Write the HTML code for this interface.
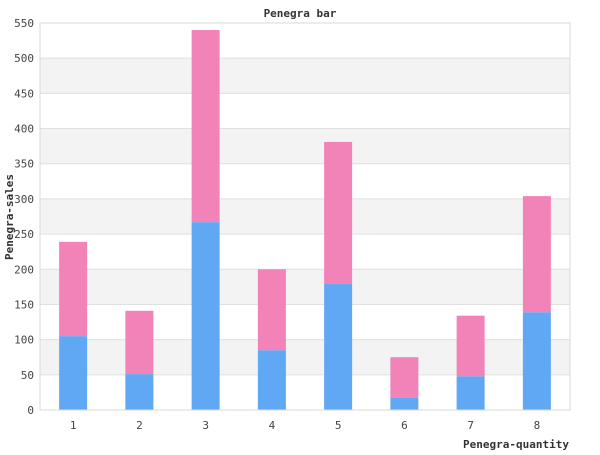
<!DOCTYPE html>
<html><head><meta charset="utf-8"><style>
body{margin:0;background:#fff;}
svg text{font-family:"DejaVu Sans Mono","Liberation Mono",monospace;}
</style></head><body>
<svg width="600" height="450" xmlns="http://www.w3.org/2000/svg">
<text x="300" y="17" text-anchor="middle" font-size="11" font-weight="bold" fill="#333">Penegra bar</text>
<g id="grid"></g>
<g id="bars"></g>
<g id="axes"></g>
<text x="569" y="448" text-anchor="end" font-size="11" font-weight="bold" fill="#333">Penegra-quantity</text>
<text transform="translate(13,217) rotate(-90)" text-anchor="middle" font-size="11" font-weight="bold" fill="#333">Penegra-sales</text>
</svg>
<script>
const categories=["1","2","3","4","5","6","7","8"];
const seriesBlue=[105,51,267,85,179,18,48,139];
const seriesPink=[134,90,273,115,202,57,86,165];
const yTicks=[0,50,100,150,200,250,300,350,400,450,500,550];
const NS="http://www.w3.org/2000/svg";
const L=40,R=570,T=23,B=410,yMax=550;
const y=v=>B-(v/yMax)*(B-T);
const bw=(R-L)/categories.length;
const xc=i=>L+bw*(i+0.5);
function mk(tag,attrs,parent){const e=document.createElementNS(NS,tag);for(const k in attrs)e.setAttribute(k,attrs[k]);parent.appendChild(e);return e;}
const grid=document.getElementById('grid'),bars=document.getElementById('bars'),axes=document.getElementById('axes');
for(let i=0;i<yTicks.length-1;i++){
  if(i%2===1){const r=mk('rect',{x:L,y:y(yTicks[i+1]),width:R-L,height:y(yTicks[i])-y(yTicks[i+1]),fill:'#f3f3f3'},grid);
  
  }
}
yTicks.forEach(t=>{
  const l=mk('line',{x1:L,x2:R,y1:y(t),y2:y(t),stroke:'#e0e0e0','stroke-width':1},grid);
  
  
  const tx=mk('text',{x:34,y:y(t)+4,'text-anchor':'end','font-size':'11',fill:'#444'},axes);
  tx.textContent=t;
  
  
});
const frame=mk('rect',{x:L,y:T,width:R-L,height:B-T,fill:'none',stroke:'#d8d8d8'},axes);


categories.forEach((c,i)=>{
  const x=xc(i)-14;
  const b=mk('rect',{x:x,y:y(seriesBlue[i]),width:28,height:B-y(seriesBlue[i]),fill:'#61a8f4'},bars);
  
  
  const tot=seriesBlue[i]+seriesPink[i];
  const p=mk('rect',{x:x,y:y(tot),width:28,height:y(seriesBlue[i])-y(tot),fill:'#f283b9'},bars);
  
  
  const tx=mk('text',{x:xc(i),y:429,'text-anchor':'middle','font-size':'11',fill:'#444'},axes);
  tx.textContent=c;
  
  
});
</script>
</body></html>
